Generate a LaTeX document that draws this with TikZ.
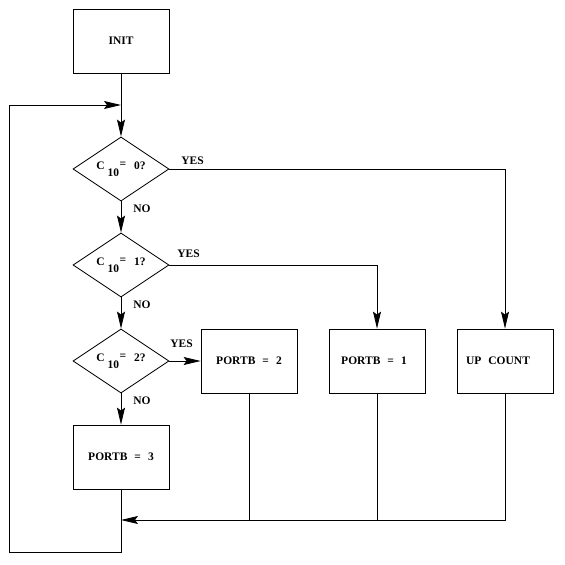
\documentclass[tikz,border=0pt]{standalone}
\usepackage{fontspec}
\setmainfont{Liberation Serif}
\usetikzlibrary{shapes.geometric,arrows.meta}
\begin{document}
\begin{tikzpicture}[x=1pt,y=-1pt, line width=0.8pt,
  txt/.style={font=\bfseries\fontsize{11.5}{13}\selectfont},
  box/.style={draw, rectangle, minimum width=96pt, minimum height=64pt, inner sep=0pt, txt},
  dec/.style={draw, diamond, minimum width=96pt, minimum height=64pt, inner sep=0pt, txt},
  lbl/.style={anchor=base west, inner sep=0pt, txt},
  arr/.style={-{Stealth[length=17pt,width=8pt,inset=3pt,line width=0.8pt]}}]
\useasboundingbox (0,0) rectangle (565,565);
\newcommand{\cten}[1]{C\hspace{3pt}\raisebox{-7pt}{10}\hspace{0.5pt}\raisebox{2pt}{=}\hspace{8pt}#1?}
\newcommand{\wsp}{\hspace{7pt}}
\node[box] (init) at (121,41) {INIT};
\node[dec] (d1) at (121,169) {\cten{0}};
\node[dec] (d2) at (121,265) {\cten{1}};
\node[dec] (d3) at (121,361) {\cten{2}};
\node[box] (p3) at (121,457) {PORTB\wsp=\wsp3};
\node[box] (p2) at (249,361) {PORTB\wsp=\wsp2};
\node[box] (p1) at (377,361) {\hspace{-6pt}PORTB\wsp=\wsp1};
\node[box] (up) at (505,361) {\hspace{-14pt}UP\wsp COUNT};
\coordinate (j1) at (121,105);
\coordinate (lt) at (9,105);
\coordinate (lb) at (9,552);
\coordinate (j2) at (121,520);
\draw[arr] (init.south) -- (d1.north);
\draw[arr] (d1.south) -- (d2.north);
\draw[arr] (d2.south) -- (d3.north);
\draw[arr] (d3.south) -- (p3.north);
\draw[arr] (d1.east) -| (up.north);
\draw[arr] (d2.east) -| (p1.north);
\draw[arr] (d3.east) -- (p2.west);
\draw[arr] (p3.south) |- (lb) -- (lt) -- (j1);
\draw[arr] (up.south) |- (j2);
\draw (p1.south) -- (p1.south |- j2);
\draw (p2.south) -- (p2.south |- j2);
\node[lbl] (y1) at (181,164) {YES};
\node[lbl] (n1) at (133,212) {NO};
\node[lbl] (y2) at (177,257) {YES};
\node[lbl] (n2) at (133,308) {NO};
\node[lbl] (y3) at (170,347) {YES};
\node[lbl] (n3) at (133,404) {NO};
\end{tikzpicture}
\end{document}
